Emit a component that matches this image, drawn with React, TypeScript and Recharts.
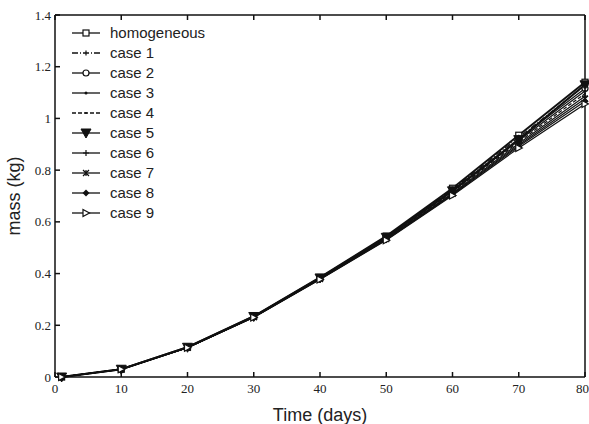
import { LineChart, Line, XAxis, YAxis } from 'recharts';

const days = [1, 10, 20, 30, 40, 50, 60, 70, 80];
const homogeneous = [0, 0.03, 0.115, 0.235, 0.385, 0.545, 0.73, 0.935, 1.14];
const case1 = [0, 0.03, 0.115, 0.234, 0.384, 0.543, 0.726, 0.927, 1.127];
const case2 = [0, 0.03, 0.114, 0.233, 0.383, 0.541, 0.722, 0.921, 1.116];
const case3 = [0, 0.03, 0.114, 0.233, 0.382, 0.539, 0.718, 0.915, 1.106];
const case4 = [0, 0.03, 0.114, 0.232, 0.381, 0.537, 0.715, 0.909, 1.096];
const case5 = [0, 0.03, 0.115, 0.234, 0.383, 0.54, 0.72, 0.918, 1.13];
const case6 = [0, 0.03, 0.114, 0.232, 0.38, 0.535, 0.711, 0.903, 1.086];
const case7 = [0, 0.03, 0.113, 0.231, 0.379, 0.533, 0.708, 0.897, 1.076];
const case8 = [0, 0.03, 0.113, 0.231, 0.378, 0.531, 0.705, 0.892, 1.066];
const case9 = [0, 0.03, 0.113, 0.23, 0.377, 0.529, 0.702, 0.886, 1.056];

const xTicks = [0, 10, 20, 30, 40, 50, 60, 70, 80];
const yTicks = [0, 0.2, 0.4, 0.6, 0.8, 1, 1.2, 1.4];

type Kind = 'square' | 'tick' | 'circle' | 'dot' | 'small' | 'down' | 'plus' | 'star' | 'diamond' | 'right';

const series: { key: string; name: string; values: number[]; kind: Kind; dash?: string }[] = [
  { key: 'homogeneous', name: 'homogeneous', values: homogeneous, kind: 'square' },
  { key: 'case1', name: 'case 1', values: case1, kind: 'tick', dash: '6 2 1 2' },
  { key: 'case2', name: 'case 2', values: case2, kind: 'circle' },
  { key: 'case3', name: 'case 3', values: case3, kind: 'dot' },
  { key: 'case4', name: 'case 4', values: case4, kind: 'small', dash: '4 2' },
  { key: 'case5', name: 'case 5', values: case5, kind: 'down' },
  { key: 'case6', name: 'case 6', values: case6, kind: 'plus' },
  { key: 'case7', name: 'case 7', values: case7, kind: 'star' },
  { key: 'case8', name: 'case 8', values: case8, kind: 'diamond' },
  { key: 'case9', name: 'case 9', values: case9, kind: 'right' },
];

const data = days.map((d, i) => {
  const row: Record<string, number> = { day: d };
  series.forEach((s) => (row[s.key] = s.values[i]));
  return row;
});

function Marker({ kind, cx, cy }: { kind: Kind; cx: number; cy: number }) {
  const st = { stroke: '#111', strokeWidth: 1.2 };
  switch (kind) {
    case 'square':
      return <rect x={cx - 3} y={cy - 3} width={6} height={6} fill="#fff" {...st} />;
    case 'circle':
      return <circle cx={cx} cy={cy} r={3} fill="#fff" {...st} />;
    case 'dot':
      return <circle cx={cx} cy={cy} r={1.5} fill="#111" />;
    case 'small':
      return <circle cx={cx} cy={cy} r={1} fill="#111" />;
    case 'tick':
      return <path d={`M${cx} ${cy - 2.5}V${cy + 2.5}`} {...st} />;
    case 'down':
      return <path d={`M${cx - 5} ${cy - 4}H${cx + 5}L${cx} ${cy + 5}Z`} fill="#111" stroke="#111" />;
    case 'plus':
      return <path d={`M${cx - 3} ${cy}H${cx + 3}M${cx} ${cy - 3}V${cy + 3}`} {...st} />;
    case 'star':
      return <path d={`M${cx - 3} ${cy - 3}L${cx + 3} ${cy + 3}M${cx + 3} ${cy - 3}L${cx - 3} ${cy + 3}M${cx} ${cy - 3}V${cy + 3}`} {...st} />;
    case 'diamond':
      return <path d={`M${cx} ${cy - 3.5}L${cx + 3.5} ${cy}L${cx} ${cy + 3.5}L${cx - 3.5} ${cy}Z`} fill="#111" />;
    case 'right':
      return <path d={`M${cx - 3} ${cy - 3.5}L${cx + 3.5} ${cy}L${cx - 3} ${cy + 3.5}Z`} fill="#fff" {...st} />;
  }
}

const serif = '"Liberation Serif", "Times New Roman", serif';
const sans = '"Liberation Sans", Arial, sans-serif';

export default function App() {
  return (
    <div style={{ position: 'relative', width: 589, height: 424, background: '#fff' }}>
      <style>{'body{margin:0}'}</style>
      <LineChart width={589} height={424} data={data} margin={{ top: 14, right: 3, bottom: 0, left: 0 }}>
        <XAxis
          xAxisId="b"
          dataKey="day"
          type="number"
          domain={[0, 80]}
          ticks={xTicks}
          height={47}
          stroke="#111"
          strokeWidth={1.5}
          tickSize={-5}
          tickMargin={12}
          tick={{ fontSize: 13, fontFamily: serif, fill: '#222' }}
          label={{ value: 'Time (days)', position: 'insideBottom', offset: 3, fontSize: 18, fontFamily: sans, fill: '#222' }}
        />
        <XAxis
          xAxisId="t"
          dataKey="day"
          type="number"
          orientation="top"
          domain={[0, 80]}
          ticks={xTicks}
          height={1}
          stroke="#111"
          strokeWidth={1.5}
          tickSize={-5}
          tickFormatter={() => ''}
        />
        <YAxis
          yAxisId="l"
          domain={[0, 1.4]}
          ticks={yTicks}
          width={55}
          stroke="#111"
          strokeWidth={1.5}
          tickSize={-5}
          tickMargin={9}
          tick={{ fontSize: 13, fontFamily: serif, fill: '#222' }}
          label={{ value: 'mass (kg)', angle: -90, position: 'insideLeft', offset: 14, fontSize: 18, fontFamily: sans, fill: '#222', style: { textAnchor: 'middle' } }}
        />
        <YAxis
          yAxisId="r"
          orientation="right"
          domain={[0, 1.4]}
          ticks={yTicks}
          width={1}
          stroke="#111"
          strokeWidth={1.5}
          tickSize={-5}
          tickFormatter={() => ''}
        />
        {series.map((s) => (
          <Line
            key={s.key}
            xAxisId="b"
            yAxisId="l"
            dataKey={s.key}
            name={s.name}
            type="linear"
            stroke="#111"
            strokeWidth={s.kind === 'down' || s.kind === 'square' ? 2 : 1.2}
            strokeDasharray={s.dash}
            isAnimationActive={false}
            dot={(p: any) => <Marker key={`${s.key}-${p.index}`} kind={s.kind} cx={p.cx} cy={p.cy} />}
          />
        ))}
      </LineChart>
      <svg width={589} height={424} style={{ position: 'absolute', left: 0, top: 0, pointerEvents: 'none' }}>
        {series.map((s, i) => {
          const y = 33 + i * 20;
          return (
            <g key={s.key}>
              <line x1={72} y1={y} x2={100} y2={y} stroke="#111" strokeWidth={1.3} strokeDasharray={s.dash} />
              <Marker kind={s.kind} cx={86} cy={y} />
              <text x={110} y={y + 5} fontFamily={sans} fontSize={15} fill="#222">
                {s.name}
              </text>
            </g>
          );
        })}
      </svg>
    </div>
  );
}
